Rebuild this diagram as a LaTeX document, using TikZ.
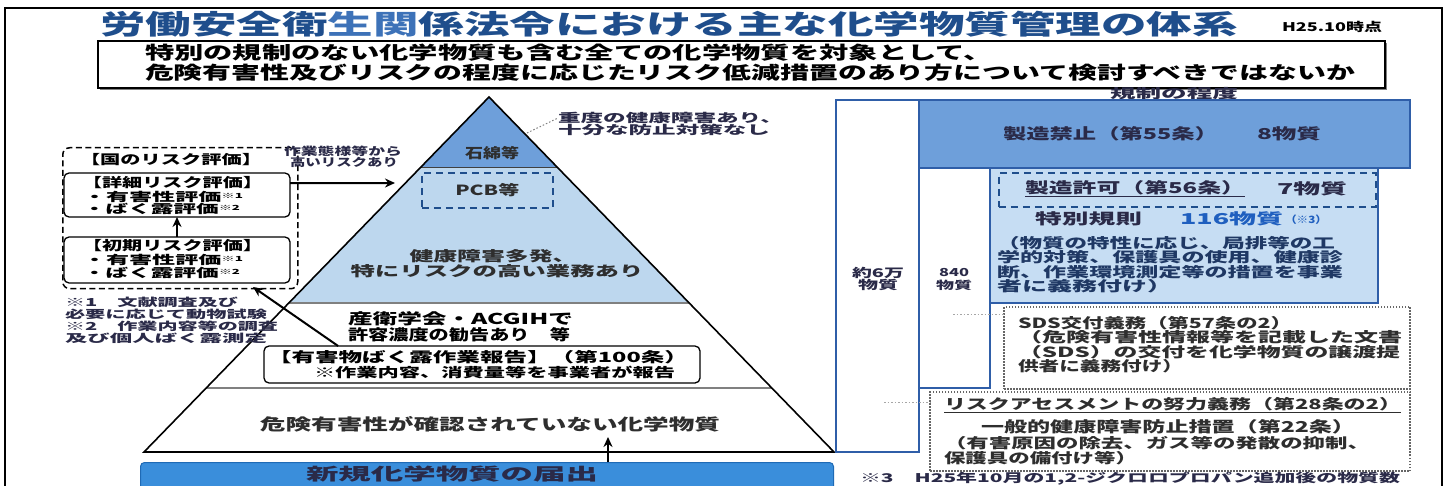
\documentclass[tikz,border=0pt]{standalone}
\usepackage{fontspec}
\usepackage{graphicx}
\newfontfamily\jp{Noto Sans CJK JP}
\usetikzlibrary{arrows.meta,calc}
\definecolor{navy}{HTML}{1F4E8C}
\definecolor{lightnavy}{HTML}{3D72B8}
\definecolor{bandA}{HTML}{6E9FDA}
\definecolor{bandB}{HTML}{BDD7EE}
\definecolor{bandC}{HTML}{C6DDF3}
\definecolor{colline}{HTML}{2F5EA8}
\definecolor{barblue}{HTML}{3A8EDB}
\definecolor{barline}{HTML}{1F6AB5}
\definecolor{deepnavy}{HTML}{1F3864}
\definecolor{txtgray}{HTML}{2E2E2E}
\definecolor{notecol}{HTML}{2A2A48}
\definecolor{numblue}{HTML}{1F5FBF}
\definecolor{dotgray}{HTML}{666666}
\newcommand\fitw[2]{\resizebox{#1pt}{\height}{#2}}
\begin{document}
\begin{tikzpicture}[x=1pt,y=-1pt,
  tx/.style={inner sep=0pt,outer sep=0pt,font=\jp\bfseries\fontsize{#1}{#1}\selectfont},
  colbox/.style={draw=colline,line width=1.4pt,inner sep=0pt,outer sep=0pt,anchor=north west},
  rbox/.style={draw=black,line width=1.3pt,rounded corners=5pt,fill=white,inner sep=0pt,outer sep=0pt,anchor=north west},
  dotbox/.style={draw=dotgray,line width=1.3pt,dash pattern=on 1.5pt off 1.5pt,fill=white,inner sep=0pt,outer sep=0pt,anchor=north west},
  arr/.style={line width=2pt,-{Stealth[length=10pt,width=9pt]}},
  leader/.style={draw=gray!70,line width=1pt,dash pattern=on 1.5pt off 2pt}]
\useasboundingbox (0,0) rectangle (1451,486);
\fill[white] (0,0) rectangle (1451,486);
% outer frame
\draw[line width=2.5pt] (5,500) -- (5,8) -- (1442,8) -- (1442,500);
% title
\node[tx=27,text=navy] (title) at (669,24) {\fitw{1138}{労働安全衛\textcolor{lightnavy}{生関}係法令における主な化学物質管理の体系}};
\node[tx=12,anchor=west] (date) at (1282,27) {\fitw{100}{H25.10時点}};
% question box
\fill[black!50] (100,43) rectangle (1387,90);
\node[draw=black,line width=2pt,fill=white,minimum width=1287pt,minimum height=47pt,anchor=north west,inner sep=0pt] (topbox) at (97,40) {};
\node[tx=18,anchor=west] (q1) at (145,53) {\fitw{848}{特別の規制のない化学物質も含む全ての化学物質を対象として、}};
\node[tx=18,anchor=west] (q2) at (145,73) {\fitw{1210}{危険有害性及びリスクの程度に応じたリスク低減措置のあり方について検討すべきではないか}};
% ---------------- pyramid ----------------
\coordinate (apex) at (489,97);
\coordinate (bl) at (144,452);
\coordinate (br) at (834,452);
\coordinate (l1) at ($(apex)!0.2!(bl)$);
\coordinate (r1) at ($(apex)!0.2!(br)$);
\coordinate (l2) at ($(apex)!0.5803!(bl)$);
\coordinate (r2) at ($(apex)!0.5803!(br)$);
\coordinate (l3) at ($(apex)!0.8197!(bl)$);
\coordinate (r3) at ($(apex)!0.8197!(br)$);
\fill[bandA] (apex) -- (l1) -- (r1) -- cycle;
\fill[bandB] (l1) -- (l2) -- (r2) -- (r1) -- cycle;
\draw[line width=1pt,black!75] (l1) -- (r1);
\draw[line width=1.2pt,gray] (l2) -- (r2);
\draw[line width=1.2pt,gray] (l3) -- (r3);
\draw[line width=1.6pt,line join=miter] (apex) -- (bl) -- (br) -- cycle;
\node[tx=14,text=txtgray] (ishi) at (492,153) {\fitw{54}{石綿等}};
\node[draw=navy,dash pattern=on 7pt off 5pt,line width=1.6pt,minimum width=131pt,minimum height=35pt,anchor=north west,inner sep=0pt] (pcb) at (421,172) {};
\node[tx=14,text=txtgray] (pcbtxt) at (pcb.center) {\fitw{64}{PCB等}};
\node[tx=14,text=txtgray] (kenko1) at (493,256) {\fitw{167}{健康障害多発、}};
\node[tx=14,text=txtgray] (kenko2) at (497,271) {\fitw{293}{特にリスクの高い業務あり}};
\node[tx=12,text=notecol,anchor=west] (jyudo) at (558,118) {\fitw{225}{重度の健康障害あり、}};
\node[tx=12,text=notecol,anchor=west] (jyudo2) at (558,130) {\fitw{212}{十分な防止対策なし}};
\coordinate (ld3) at (527,133);
\draw[leader,draw=gray] (ld3) -- (jyudo.west);
\node[tx=15,anchor=west] (sanei) at (348,319) {\fitw{225}{産衛学会・ACGIHで}};
\node[tx=15,anchor=west] (kyoyo) at (348,335) {\fitw{222}{許容濃度の勧告あり　等}};
\node[rbox,minimum width=436pt,minimum height=37pt] (yugai) at (264,346) {};
\node[tx=14,anchor=west] (yugai1) at (268,357) {\fitw{420}{【有害物ばく露作業報告】（第100条）}};
\node[tx=13,anchor=west] (yugai2) at (314,372) {\fitw{361}{※作業内容、消費量等を事業者が報告}};
\node[tx=16,text=txtgray] (kiken) at (490,424) {\fitw{460}{危険有害性が確認されていない化学物質}};
% new substance bar
\node[fill=barblue,draw=barline,line width=1pt,rounded corners=4pt,minimum width=693pt,minimum height=40pt,anchor=north west,inner sep=0pt] (bar) at (140,462) {};
\node[tx=17,text=notecol] (bartxt) at (452,474) {\fitw{292}{新規化学物質の届出}};
\coordinate (basetip) at (608,437);
\draw[arr] (bar.north -| basetip) -- (basetip);
% ---------------- left panel ----------------
\node[draw,dash pattern=on 6pt off 3.5pt,line width=1.5pt,rounded corners=7pt,minimum width=235pt,minimum height=141pt,anchor=north west,inner sep=0pt] (kuni) at (62,147) {};
\node[tx=13,anchor=west] (kunit) at (80,160) {\fitw{182}{【国のリスク評価】}};
\node[rbox,minimum width=226pt,minimum height=44pt] (shosai) at (64,173) {};
\node[tx=13,anchor=west] (shosai1) at (82,183) {\fitw{181}{【詳細リスク評価】}};
\node[tx=12,anchor=west] (shosai2) at (83,197) {\fitw{160}{・有害性評価\raisebox{3pt}{\fontsize{7}{7}\selectfont ※1}}};
\node[tx=12,anchor=west] (shosai3) at (83,209) {\fitw{157}{・ばく露評価\raisebox{3pt}{\fontsize{7}{7}\selectfont ※2}}};
\node[rbox,minimum width=226pt,minimum height=46pt] (shoki) at (64,237) {};
\node[tx=13,anchor=west] (shoki1) at (82,246) {\fitw{181}{【初期リスク評価】}};
\node[tx=12,anchor=west] (shoki2) at (83,260) {\fitw{160}{・有害性評価\raisebox{3pt}{\fontsize{7}{7}\selectfont ※1}}};
\node[tx=12,anchor=west] (shoki3) at (83,273) {\fitw{157}{・ばく露評価\raisebox{3pt}{\fontsize{7}{7}\selectfont ※2}}};
\draw[arr] (shoki.north) -- (shosai.south);
\node[tx=11,text=notecol,anchor=west] (n1) at (65,302) {\fitw{173}{※1　文献調査及び}};
\node[tx=11,text=notecol,anchor=west] (n2) at (65,314) {\fitw{202}{必要に応じて動物試験}};
\node[tx=11,text=notecol,anchor=west] (n3) at (65,326) {\fitw{213}{※2　作業内容等の調査}};
\node[tx=11,text=notecol,anchor=west] (n4) at (65,338) {\fitw{202}{及び個人ばく露測定}};
\node[tx=11,text=notecol,anchor=west] (sagyo1) at (284,151) {\fitw{118}{作業態様等から}};
\node[tx=11,text=notecol,anchor=west] (sagyo2) at (290,162) {\fitw{108}{高いリスクあり}};
\coordinate (pcbtip) at (395,183);
\draw[arr] ($(shosai.north east)!0.23!(shosai.south east)$) -- (pcbtip);
\coordinate (shokitip) at (253,287);
\draw[arr] ($(yugai.north west)!0.17!(yugai.north east)$) -- (shokitip);
% ---------------- right column ----------------
\node[tx=13,text=notecol] (kisei) at (1174,94) {\fitw{128}{規制の程度}};
\node[colbox,fill=white,minimum width=83pt,minimum height=352pt] (c6) at (836,100) {};
\node[colbox,fill=bandA,minimum width=491pt,minimum height=68pt] (kinshi) at (919,100) {};
\node[colbox,fill=white,minimum width=71pt,minimum height=220pt] (c840) at (919,168) {};
\node[colbox,fill=bandC,minimum width=388pt,minimum height=135pt] (toku) at (990,168) {};
\node[draw=navy,dash pattern=on 7pt off 5pt,line width=1.6pt,minimum width=377pt,minimum height=34pt,anchor=north west,inner sep=0pt] (kyoka) at (998,172) {};
\node[tx=15,text=notecol,anchor=west] (kinshi1) at (1003,134) {\fitw{215}{製造禁止（第55条）}};
\node[tx=15,text=notecol,anchor=west] (kinshi2) at (1257,134) {\fitw{64}{8物質}};
\node[tx=12,text=notecol] (c6a) at (878,273) {\fitw{52}{約6万}};
\node[tx=12,text=notecol] (c6b) at (878,285) {\fitw{40}{物質}};
\node[tx=11,text=notecol] (c840a) at (954,273) {\fitw{30}{840}};
\node[tx=11,text=notecol] (c840b) at (954,285) {\fitw{36}{物質}};
\node[tx=15,text=notecol,anchor=west] (kyoka1) at (1025,189) {\fitw{220}{\underline{製造許可（第56条）}}};
\node[tx=15,text=notecol,anchor=west] (kyoka2) at (1277,189) {\fitw{70}{7物質}};
\node[tx=15,text=notecol,anchor=west] (toku1) at (1035,219) {\fitw{107}{特別規則}};
\node[tx=15,text=numblue,anchor=west] (toku2) at (1180,219) {\fitw{103}{116物質}};
\node[tx=10,text=numblue,anchor=west] (toku3) at (1285,220) {\fitw{42}{（※3）}};
\node[tx=14,text=deepnavy,anchor=west] (b1) at (997,243) {\fitw{338}{（物質の特性に応じ、局排等の工}};
\node[tx=14,text=deepnavy,anchor=west] (b2) at (997,257) {\fitw{346}{学的対策、保護具の使用、健康診}};
\node[tx=14,text=deepnavy,anchor=west] (b3) at (997,272) {\fitw{346}{断、作業環境測定等の措置を事業}};
\node[tx=14,text=deepnavy,anchor=west] (b4) at (997,286) {\fitw{175}{者に義務付け）}};
\node[dotbox,minimum width=406pt,minimum height=82pt] (sds) at (1004,307) {};
\node[tx=14,text=txtgray,anchor=west] (s1) at (1018,323) {\fitw{274}{SDS交付義務（第57条の2）}};
\node[tx=14,text=txtgray,anchor=west] (s2) at (1018,337) {\fitw{384}{（危険有害性情報等を記載した文書}};
\node[tx=14,text=txtgray,anchor=west] (s3) at (1018,352) {\fitw{382}{（SDS）の交付を化学物質の譲渡提}};
\node[tx=14,text=txtgray,anchor=west] (s4) at (1018,366) {\fitw{165}{供者に義務付け）}};
\node[dotbox,minimum width=480pt,minimum height=79pt] (risk) at (930,392) {};
\node[tx=14,text=txtgray,anchor=west] (r1t) at (944,405) {\fitw{457}{\underline{リスクアセスメントの努力義務（第28条の2）}}};
\node[tx=15,text=txtgray,anchor=west] (r2t) at (981,427) {\fitw{374}{一般的健康障害防止措置（第22条）}};
\node[tx=14,text=txtgray,anchor=west] (r3t) at (944,443) {\fitw{426}{（有害原因の除去、ガス等の発散の抑制、}};
\node[tx=14,text=txtgray,anchor=west] (r4t) at (944,458) {\fitw{193}{保護具の備付け等）}};
\coordinate (ld1) at (953,315);
\draw[leader] (ld1) -- (ld1 -| sds.west);
\coordinate (ld2) at (884,402);
\draw[leader] (ld2) -- (ld2 -| risk.west);
\node[tx=12,text=notecol,anchor=west] (note3) at (860,479) {\fitw{540}{※3　H25年10月の1,2-ジクロロプロパン追加後の物質数}};
\end{tikzpicture}
\end{document}
